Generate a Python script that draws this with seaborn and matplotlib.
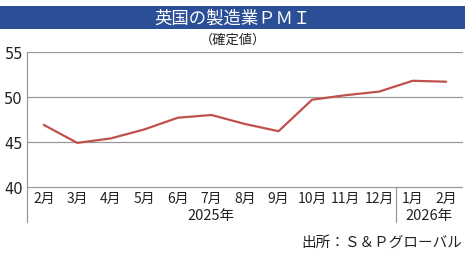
import matplotlib
matplotlib.use("Agg")
import matplotlib.pyplot as plt
import seaborn as sns
import pandas as pd
import numpy as np

months = ["2月", "3月", "4月", "5月", "6月", "7月", "8月", "9月", "10月", "11月", "12月", "1月", "2月"]
pmi = [46.9, 44.9, 45.4, 46.4, 47.7, 48.0, 47.0, 46.2, 49.7, 50.2, 50.6, 51.8, 51.7]
years = ["2025年", "2026年"]
year_counts = [11, 2]
yticks = [40, 45, 50, 55]

sns.set_style("white")
plt.rcParams['font.family'] = ['Noto Sans CJK JP', 'DejaVu Sans']

W, H = 465, 255
fig = plt.figure(figsize=(W / 100, H / 100), dpi=100)

# title bar
fig.patches.append(plt.Rectangle((0, 1 - 30 / H), 1, 23 / H, transform=fig.transFigure,
                                 facecolor="#2b4f96", edgecolor="none"))
fig.text(0.5, 1 - 18.5 / H, "英国の製造業ＰＭＩ", color="white", fontsize=12.5,
         ha="center", va="center")
fig.text(0.5, 1 - 40 / H, "（確定値）", color="#222222", fontsize=9.5,
         ha="center", va="center")

ax = fig.add_axes([27 / W, (H - 223) / H, (463 - 27) / W, (223 - 53) / H])
df = pd.DataFrame({"x": np.arange(len(pmi)), "pmi": pmi})
sns.lineplot(data=df, x="x", y="pmi", ax=ax, color="#c0504d", linewidth=1.6)

ymin = 40 - 35 / 9
ax.set_ylim(ymin, 55)
ax.set_xlim(-0.5, len(pmi) - 0.5)
for s in ["top", "right", "bottom"]:
    ax.spines[s].set_visible(False)
ax.spines["left"].set_color("#999999")
ax.spines["left"].set_linewidth(0.9)
for v in yticks:
    ax.axhline(v, color="#999999", linewidth=0.9, zorder=0)
ax.set_yticks(yticks)
ax.set_yticklabels([str(v) for v in yticks], fontsize=10.5, color="#222222",
                   family=["Liberation Sans Narrow", "DejaVu Sans"])
ax.tick_params(axis="y", length=0, pad=3)
ax.set_xticks([])
ax.set_xlabel("")
ax.set_ylabel("")

# month labels
for i, m in enumerate(months):
    ax.text(i, 40 - 11 / 9, m, ha="center", va="center", fontsize=10, color="#222222")
# year labels and separators
start = 0
for yl, c in zip(years, year_counts):
    ax.text((start + start + c - 1) / 2, 40 - 28.5 / 9, yl, ha="center", va="center",
            fontsize=10.5, color="#222222")
    start += c
    if start < len(pmi):
        ax.plot([start - 0.5, start - 0.5], [ymin, 40], color="#999999", linewidth=0.9,
                clip_on=False)

fig.text(462 / W, 1 - 243 / H, "出所：Ｓ＆Ｐグローバル", ha="right", va="center",
         fontsize=10.5, color="#222222")

fig.savefig("out.png", dpi=100)
